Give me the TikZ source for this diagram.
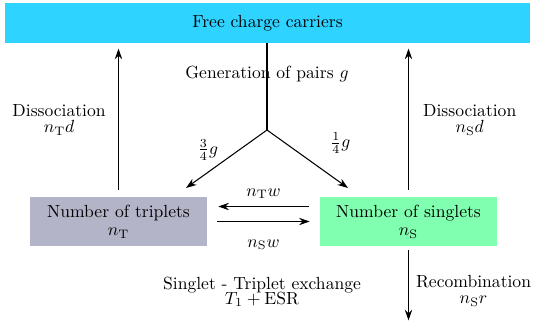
\documentclass[tikz,border=0pt]{standalone}
\usepackage{amsmath,mathtools}
\usepackage{tikz}
\usepackage{xcolor}
\usetikzlibrary{arrows.meta,positioning}

\definecolor{carrierblue}{HTML}{2ED3FF}
\definecolor{tripletgray}{HTML}{B4B4C8}
\definecolor{singletgreen}{HTML}{80FFB0}

\begin{document}
\begin{tikzpicture}[
    box/.style={minimum width=3.54cm, minimum height=0.98cm, align=center, inner sep=0pt},
    flow/.style={-{Stealth[length=6pt, width=4.2pt]}, semithick},
    lbl/.style={align=center, inner sep=2pt}
  ]
    \useasboundingbox (0,0) rectangle (10.66,6.46);

    % Populations
    \node [fill=carrierblue, minimum width=10.5cm, minimum height=0.8cm] (free) at (5.35,6.0) {Free charge carriers};
    \node [box, fill=tripletgray] (trip) at (2.37,2.03) {Number of triplets\\[-1.5pt]$n_{\mathrm{T}}$};
    \node [box, fill=singletgreen] (sing) at (8.17,2.03) {Number of singlets\\[-1.5pt]$n_{\mathrm{S}}$};

    % Generation
    \coordinate (gen) at (5.34,3.86);
    \draw [semithick] (gen |- free.south) -- node [lbl, pos=0.35] {Generation of pairs $g$} (gen);
    \draw [flow] (gen) -- node [lbl, pos=0.62, above left=1pt and -3pt] {$\frac{3}{4}g$} ++(-1.62,-1.16);
    \draw [flow] (gen) -- node [lbl, pos=0.6, above right=4pt and 6pt] {$\frac{1}{4}g$} ++(1.62,-1.16);

    % Dissociation
    \draw [flow, shorten <=4pt, shorten >=3pt] (trip.north) -- node [lbl, left=5pt] {Dissociation\\[-3pt]$n_{\mathrm{T}}d$} (trip.north |- free.south);
    \draw [flow, shorten <=4pt, shorten >=3pt] (sing.north) -- node [lbl, right=6pt] {Dissociation\\[-3pt]$n_{\mathrm{S}}d$} (sing.north |- free.south);

    % Exchange
    \draw [flow, shorten <=2.2mm, shorten >=2.2mm] ([yshift=3mm]sing.west) -- node [lbl, above=2pt] {$n_{\mathrm{T}}w$} ([yshift=3mm]trip.east);
    \draw [flow, shorten <=2mm, shorten >=2mm] (trip.east) -- node [lbl, below=8pt] {$n_{\mathrm{S}}w$} (sing.west);
    \node [lbl] (exch) at (5.24,0.62) {Singlet - Triplet exchange\\[-3.5pt]$T_1 + \mathrm{ESR}$};

    % Recombination
    \draw [flow, shorten <=2pt] (sing.south) -- node [lbl, right=2pt, pos=0.6] {Recombination\\[-2.5pt]$n_{\mathrm{S}}r$} ++(0,-1.48);
\end{tikzpicture}
\end{document}
